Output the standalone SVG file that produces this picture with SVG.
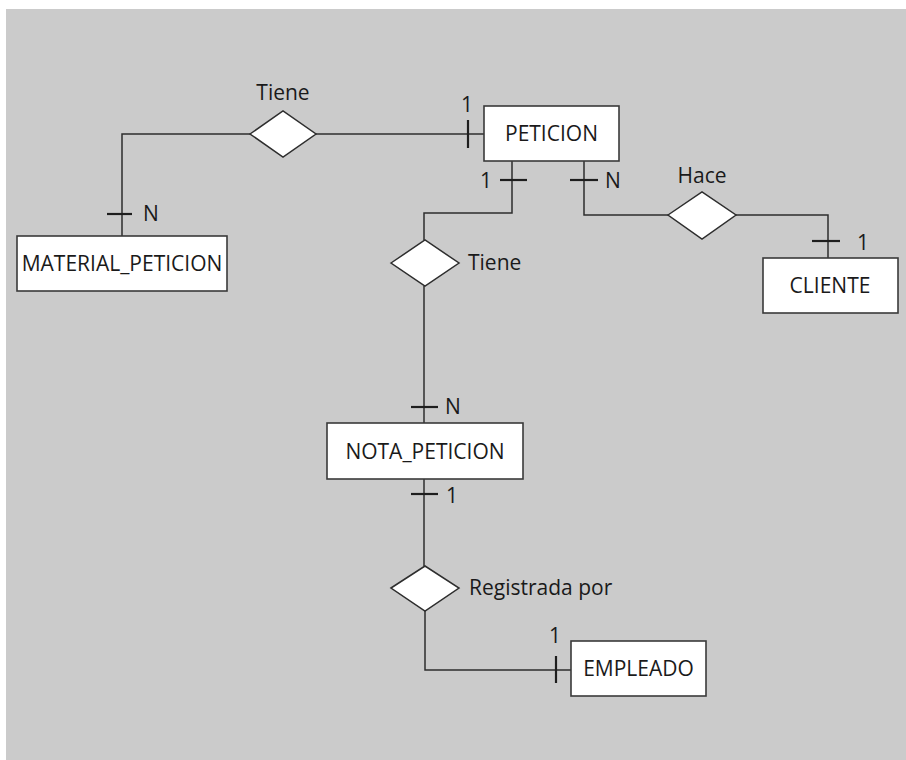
<svg xmlns="http://www.w3.org/2000/svg" width="906" height="760" viewBox="0 0 906 760">
<style>
.bg{fill:#cbcbcb}
.ent rect{fill:#fff;stroke:#3a3a3a;stroke-width:1.6}
.rel polygon{fill:#fff;stroke:#2e2e2e;stroke-width:1.5}
.t{font-family:"Open Sans","Liberation Sans",sans-serif;font-size:21px;fill:#1a1a1a}
.c{text-anchor:middle}
.ln{fill:none;stroke:#2e2e2e;stroke-width:1.5}
.tk{stroke:#1e1e1e;stroke-width:2.2}
</style>
<rect class="bg" x="6" y="9" width="900" height="751"/>
<g id="connectors">
<path class="ln" d="M122 236 V134 H250"/>
<path class="ln" d="M316 134 H484"/>
<path class="ln" d="M512 161 V213 H424 V240"/>
<path class="ln" d="M584 161 V215 H668"/>
<path class="ln" d="M736 215 H828 V258"/>
<path class="ln" d="M424 286 V423"/>
<path class="ln" d="M424 479 V566"/>
<path class="ln" d="M425 611 V670 H571"/>
<line class="tk" x1="468" y1="120" x2="468" y2="148"/>
<line class="tk" x1="107" y1="214" x2="132" y2="214"/>
<line class="tk" x1="500" y1="180" x2="527" y2="180"/>
<line class="tk" x1="570" y1="180" x2="598" y2="180"/>
<line class="tk" x1="812" y1="241" x2="840" y2="241"/>
<line class="tk" x1="411" y1="407" x2="438" y2="407"/>
<line class="tk" x1="411" y1="494" x2="438" y2="494"/>
<line class="tk" x1="556" y1="656" x2="556" y2="683"/>
<text class="t c" x="467" y="112">1</text>
<text class="t" x="143" y="221">N</text>
<text class="t c" x="486" y="188">1</text>
<text class="t" x="605" y="188">N</text>
<text class="t c" x="863" y="250">1</text>
<text class="t" x="445" y="414">N</text>
<text class="t c" x="452" y="503">1</text>
<text class="t c" x="555" y="643">1</text>
</g>
<g id="rel-tiene1" class="rel">
<polygon points="250,134 283,111 316,134 283,157"/>
<text class="t c" x="283" y="100">Tiene</text>
</g>
<g id="rel-tiene2" class="rel">
<polygon points="391,263 425,240 459,263 425,286"/>
<text class="t" x="468" y="270">Tiene</text>
</g>
<g id="rel-hace" class="rel">
<polygon points="668,215 702,192 736,215 702,239"/>
<text class="t c" x="702" y="183">Hace</text>
</g>
<g id="rel-registrada" class="rel">
<polygon points="391,588 425,566 459,588 425,611"/>
<text class="t" x="469" y="595">Registrada por</text>
</g>
<g id="ent-peticion" class="ent">
<rect x="484" y="106" width="135" height="55"/>
<text class="t c" x="551.5" y="141">PETICION</text>
</g>
<g id="ent-material" class="ent">
<rect x="17" y="236" width="210" height="55"/>
<text class="t c" x="122" y="271">MATERIAL_PETICION</text>
</g>
<g id="ent-cliente" class="ent">
<rect x="763" y="258" width="135" height="55"/>
<text class="t c" x="830" y="293">CLIENTE</text>
</g>
<g id="ent-nota" class="ent">
<rect x="327" y="423" width="196" height="56"/>
<text class="t c" x="425" y="459">NOTA_PETICION</text>
</g>
<g id="ent-empleado" class="ent">
<rect x="571" y="641" width="135" height="55"/>
<text class="t c" x="638.5" y="676">EMPLEADO</text>
</g>
</svg>
